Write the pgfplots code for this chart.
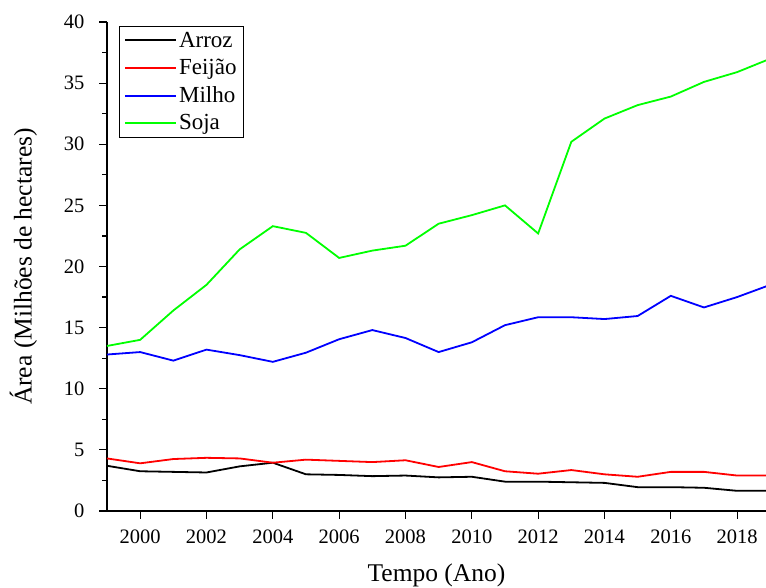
\documentclass[border=0pt]{standalone}
\usepackage{pgfplots}
\pgfplotsset{compat=1.18}
\usepackage{fontspec}
\setmainfont{Liberation Serif}
\begin{document}
\begin{tikzpicture}
\begin{axis}[
  scale only axis,
  width=659pt, height=489pt,
  xmin=1999, xmax=2018.87,
  ymin=0, ymax=40,
  axis lines=left,
  axis line style={line width=1.3pt, -},
  xtick={2000,2002,...,2018},
  minor x tick num=1,
  ytick={0,5,...,40},
  minor y tick num=1,
  tick align=outside,
  major tick length=8pt,
  minor tick length=5pt,
  every tick/.style={line width=1.2pt, black},
  /pgf/number format/assume math mode=true,
  xticklabel style={/pgf/number format/1000 sep={}, yshift=-7pt},
  yticklabel style={xshift=-11pt},
  tick label style={font=\fontsize{20.5}{22}\selectfont},
  xlabel={Tempo (Ano)},
  ylabel={Área (Milhões de hectares)},
  label style={font=\fontsize{25.5}{28}\selectfont},
  xlabel style={yshift=-14pt},
  ylabel style={yshift=20pt},
  legend style={at={(0.018,0.992)}, anchor=north west, draw=black,
    font=\fontsize{23}{25}\selectfont, inner xsep=5pt, inner ysep=4pt,
    row sep=6.5pt},
  legend cell align=left,
  legend image code/.code={\draw[#1, line width=2pt] (0pt,0pt) -- (51pt,0pt);},
  clip=true,
]
\addplot[draw=black, line width=1.8pt] coordinates {
(1999,3.70)(2000,3.25)(2001,3.20)(2002,3.15)(2003,3.65)(2004,3.95)(2005,3.00)(2006,2.95)(2007,2.85)(2008,2.90)(2009,2.75)(2010,2.80)(2011,2.40)(2012,2.40)(2013,2.35)(2014,2.30)(2015,1.95)(2016,1.95)(2017,1.90)(2018,1.65)(2019,1.65)};
\addlegendentry{Arroz}
\addplot[draw=red, line width=1.8pt] coordinates {
(1999,4.30)(2000,3.90)(2001,4.25)(2002,4.35)(2003,4.30)(2004,3.95)(2005,4.20)(2006,4.10)(2007,4.00)(2008,4.15)(2009,3.60)(2010,4.00)(2011,3.25)(2012,3.05)(2013,3.35)(2014,3.00)(2015,2.80)(2016,3.20)(2017,3.20)(2018,2.90)(2019,2.90)};
\addlegendentry{Feijão}
\addplot[draw=blue, line width=1.8pt] coordinates {
(1999,12.8)(2000,13.0)(2001,12.3)(2002,13.2)(2003,12.75)(2004,12.2)(2005,12.95)(2006,14.05)(2007,14.8)(2008,14.15)(2009,13.0)(2010,13.8)(2011,15.2)(2012,15.85)(2013,15.85)(2014,15.7)(2015,15.95)(2016,17.6)(2017,16.65)(2018,17.5)(2019,18.5)};
\addlegendentry{Milho}
\addplot[draw=green, line width=1.8pt] coordinates {
(1999,13.5)(2000,14.0)(2001,16.4)(2002,18.5)(2003,21.4)(2004,23.3)(2005,22.75)(2006,20.7)(2007,21.3)(2008,21.7)(2009,23.5)(2010,24.2)(2011,25.0)(2012,22.7)(2013,30.2)(2014,32.1)(2015,33.2)(2016,33.9)(2017,35.1)(2018,35.9)(2019,37.0)};
\addlegendentry{Soja}
\coordinate (o) at (rel axis cs:0,0);
\end{axis}
\pgfresetboundingbox
\path (o) ++(-107pt,-77pt) rectangle ++(766pt,588pt);
\end{tikzpicture}
\end{document}
